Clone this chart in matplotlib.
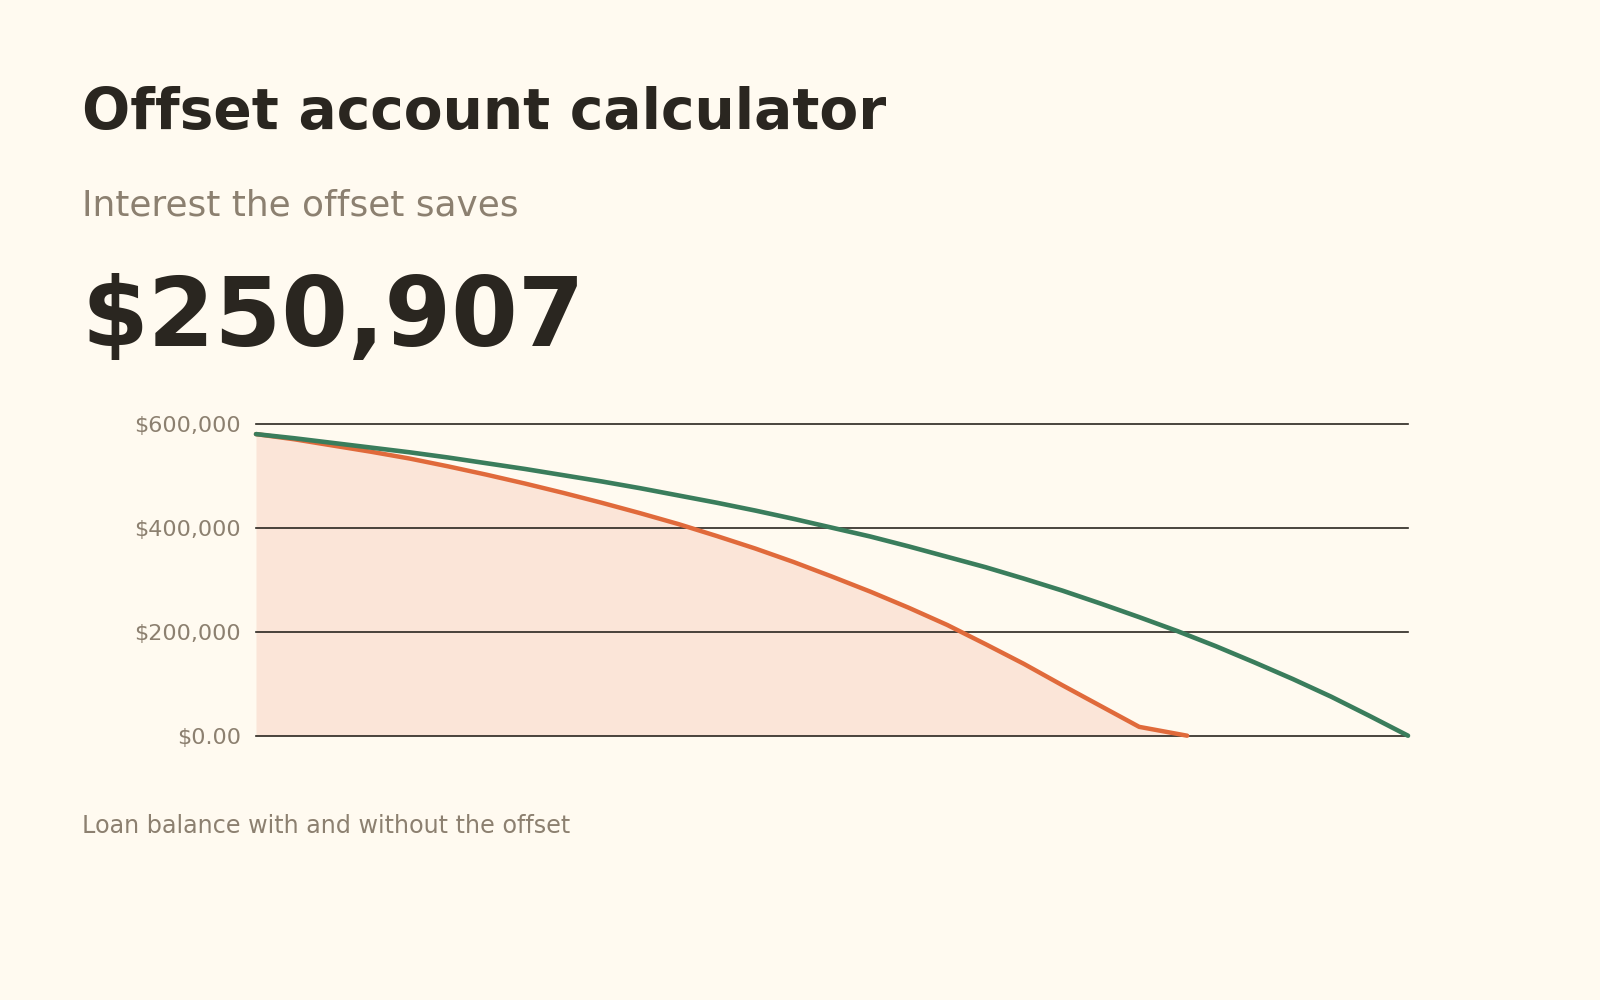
import matplotlib
matplotlib.use("Agg")
import matplotlib.pyplot as plt
from matplotlib.ticker import FixedLocator

# loan balance by year, no offset (30 year term)
years_standard = list(range(0, 31))
balance_standard = [580000, 572000, 563000, 554000, 545000, 535000, 524000, 513000,
                    501000, 489000, 476000, 462000, 448000, 433000, 417000, 400000,
                    383000, 364000, 344000, 324000, 302000, 279000, 254000, 228000,
                    201000, 172000, 141000, 109000, 75000, 38000, 0]

# loan balance by year with the offset (paid off early)
years_offset = list(range(0, 24)) + [24.25]
balance_offset = [580000, 570000, 558000, 546000, 533000, 518000, 502000, 485000,
                  467000, 448000, 428000, 407000, 384000, 360000, 334000, 306000,
                  277000, 246000, 213000, 176000, 138000, 97000, 57000, 17000, 0]

y_ticks = [0, 200000, 400000, 600000]
y_tick_labels = ["$0.00", "$200,000", "$400,000", "$600,000"]

title = "Offset account calculator"
subtitle = "Interest the offset saves"
saved = "$250,907"
caption = "Loan balance with and without the offset"

bg = "#fffaf0"
ink = "#2a2620"
muted = "#8c8070"
green = "#3a7d5c"
orange = "#e06a3b"

fig = plt.figure(figsize=(16, 10), dpi=100, facecolor=bg)

fig.text(0.051, 0.871, title, fontsize=40.8, fontweight="bold", color=ink, va="baseline")
fig.text(0.051, 0.785, subtitle, fontsize=25.8, color=muted, va="baseline")
fig.text(0.051, 0.654, saved, fontsize=69, fontweight="bold", color=ink, va="baseline")
fig.text(0.051, 0.167, caption, fontsize=17.2, color=muted, va="baseline")

ax = fig.add_axes([0.16, 0.2643, 0.72, 0.312])
ax.set_facecolor(bg)
ax.set_xlim(0, 30)
ax.set_ylim(0, 600000)

for t in y_ticks:
    ax.axhline(t, color=ink, lw=1.2, zorder=1, clip_on=False)

ax.fill_between(years_offset, balance_offset, 0, color="#fbe5d8", lw=0, zorder=0)
ax.plot(years_offset, balance_offset, color=orange, lw=3.2, zorder=3,
        solid_capstyle="round", clip_on=False)
ax.plot(years_standard, balance_standard, color=green, lw=3.3, zorder=4,
        solid_capstyle="round", clip_on=False)

ax.yaxis.set_major_locator(FixedLocator(y_ticks))
ax.set_yticklabels(y_tick_labels)
ax.set_xticks([])
ax.tick_params(axis="y", length=0, pad=11, labelsize=16, labelcolor=muted)
for s in ax.spines.values():
    s.set_visible(False)

fig.savefig("out.png", dpi=100, facecolor=bg)
